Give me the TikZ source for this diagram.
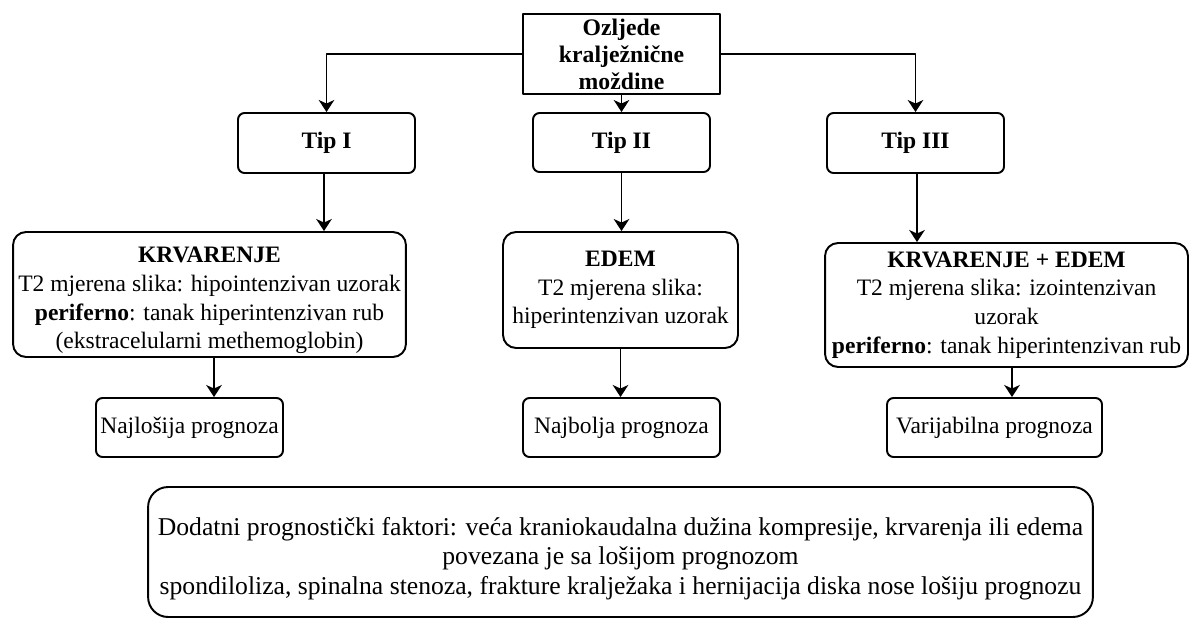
\documentclass[tikz,border=0pt]{standalone}
\usepackage{fontspec}
\setmainfont{Liberation Serif}
\usetikzlibrary{arrows.meta}

\begin{document}
\begin{tikzpicture}[x=0.02cm, y=-0.02cm, line join=round, line width=1.1pt,
  font=\fontsize{13.4}{16.3}\selectfont,
  box/.style={draw, rounded corners=0.13cm, align=center, inner sep=0pt},
  bigbox/.style={box, rounded corners=0.26cm},
  arr/.style={-{Stealth[length=0.24cm, width=0.31cm, inset=0.07cm]}}]

\useasboundingbox (0,0) rectangle (1190,622);

% ---------- root ----------
\node[draw, align=center, inner sep=0pt, minimum width=3.94cm, minimum height=1.6cm,
  font=\fontsize{13.5}{15.4}\selectfont\bfseries] (ozljede) at (621.5,54)
  {Ozljede\\kraljež\-nične\\moždine};

% ---------- types ----------
\node[box, minimum width=3.54cm, minimum height=1.2cm] (tip1) at (326.5,143) {\textbf{Tip I}};
\node[box, minimum width=3.54cm, minimum height=1.18cm] (tip2) at (621.5,142.5) {\textbf{Tip II}};
\node[box, minimum width=3.54cm, minimum height=1.2cm] (tip3) at (915.5,143) {\textbf{Tip III}};

% ---------- findings ----------
\node[bigbox, minimum width=7.86cm, minimum height=2.5cm] (krv) at (209.5,294.5)
  {\rule{0pt}{0.55cm}\textbf{KRVARENJE}\\T2 mjerena slika: hipointenzivan uzorak\\
   \textbf{periferno}: tanak hiperintenzivan rub\\(ekstracelularni methemoglobin)};
\node[bigbox, minimum width=4.7cm, minimum height=2.32cm] (edem) at (620.5,290)
  {\textbf{EDEM}\\T2 mjerena slika:\\hiperintenzivan uzorak};
\node[bigbox, minimum width=7.26cm, minimum height=2.48cm] (mix) at (1006.5,305)
  {\textbf{KRVARENJE + EDEM}\\T2 mjerena slika: izointenzivan\\uzorak\\
   \textbf{periferno}: tanak hiperintenzivan rub};

% ---------- prognosis ----------
\node[box, minimum width=3.74cm, minimum height=1.18cm] (najlos) at (189.5,427.5) {Najlošija prognoza};
\node[box, minimum width=3.94cm, minimum height=1.18cm] (najbol) at (621.5,427.5) {Najbolja prognoza};
\node[box, minimum width=4.3cm, minimum height=1.18cm] (varij) at (994.5,427.5) {Varijabilna prognoza};

% ---------- note ----------
\node[box, rounded corners=0.4cm, minimum width=18.9cm, minimum height=2.6cm,
  font=\fontsize{14.6}{16.6}\selectfont] (dodatni) at (620.5,552)
  {\rule{0pt}{0.63cm}Dodatni prognostički faktori: veća kraniokaudalna dužina kompresije, krvarenja ili edema\\
   povezana je sa lošijom prognozom\\
   spondiloliza, spinalna stenoza, frakture kralježaka i hernijacija diska nose lošiju prognozu};

% ---------- arrows ----------
\draw[arr] (ozljede.west) -| (tip1.north);
\draw[arr] (ozljede.south) -- (tip2.north);
\draw[arr] (ozljede.east) -| (tip3.north);

\draw[arr] ([xshift=-0.05cm]tip1.south) -- ([xshift=-0.05cm]tip1.south |- krv.north);
\draw[arr] (tip2.south) -- (tip2.south |- edem.north);
\draw[arr] ([xshift=0.03cm]tip3.south) -- ([xshift=0.03cm]tip3.south |- mix.north);

\draw[arr] ([xshift=0.09cm]krv.south) -- ([xshift=0.09cm]krv.south |- najlos.north);
\draw[arr] (edem.south) -- (edem.south |- najbol.north);
\draw[arr] ([xshift=0.11cm]mix.south) -- ([xshift=0.11cm]mix.south |- varij.north);

\end{tikzpicture}
\end{document}
